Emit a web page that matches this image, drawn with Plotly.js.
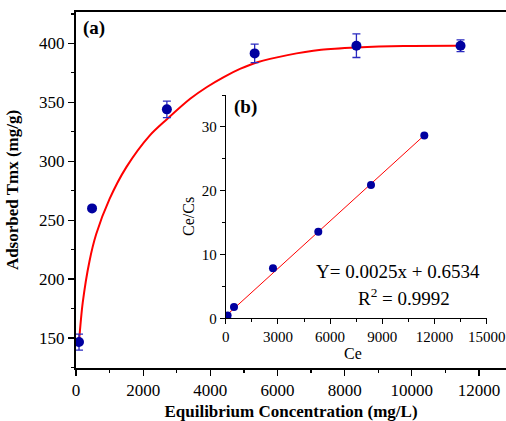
<!DOCTYPE html>
<html>
<head>
<meta charset="utf-8">
<script src="https://cdn.plot.ly/plotly-3.0.1.min.js"></script>
<style>html,body{margin:0;padding:0;background:#fff;}#chart{width:506px;height:421px;}</style>
</head>
<body>
<div id="chart"></div>
<script>
// Main plot (a): adsorption data
const ceMain = [90, 478, 2706, 5320, 8350, 11450];
const qMain = [146.6, 260, 344, 391.5, 398, 398];
const qErr = [6.8, 1.5, 7, 7.8, 10, 5];

// Fitted curve
const ceCurve = [90, 200, 400, 600, 1000, 1500, 2200, 2700, 3400, 3900, 4400, 4900, 5400, 6300, 7300, 8350, 9760, 11450];
const qCurve = [147, 180, 215, 238, 268, 295, 322, 335.5, 353, 363, 371.4, 378.5, 384, 390, 394.5, 396.5, 397.8, 398];

// Inset (b): linearised Langmuir
const ceInset = [110, 477, 2718, 5322, 8350, 11414];
const ratioInset = [0.45, 1.77, 7.85, 13.55, 20.9, 28.67];
const fitX = [100, 11420];
const fitY = [0.6, 28.7];

const mainXTicks = [0, 2000, 4000, 6000, 8000, 10000, 12000];
const mainYTicks = [150, 200, 250, 300, 350, 400];
const insetXTicks = [0, 3000, 6000, 9000, 12000, 15000];
const insetYTicks = [0, 10, 20, 30];

const W = 506, H = 421;
const M = {l: 76, r: 0, t: 12, b: 53};
const PW = W - M.l - M.r, PH = H - M.t - M.b;
const px = x => (x - M.l) / PW;
const py = y => (H - M.b - y) / PH;

const FONT = 'Liberation Serif';
const BLUE = '#0000a0';

const traces = [
  {x: ceCurve, y: qCurve, mode: 'lines', line: {color: '#ff0000', width: 2, shape: 'spline', smoothing: 0.8},
   xaxis: 'x', yaxis: 'y', hoverinfo: 'skip'},
  {x: ceMain, y: qMain, mode: 'markers', marker: {color: BLUE, size: 10},
   error_y: {type: 'data', array: qErr, visible: true, color: '#2a2ac0', thickness: 1.3, width: 4},
   xaxis: 'x', yaxis: 'y'},
  {x: fitX, y: fitY, mode: 'lines', line: {color: '#ff0000', width: 1}, xaxis: 'x2', yaxis: 'y2'},
  {x: ceInset, y: ratioInset, mode: 'markers', marker: {color: BLUE, size: 8}, xaxis: 'x2', yaxis: 'y2'}
];

const layout = {
  width: W, height: H,
  margin: M,
  showlegend: false,
  paper_bgcolor: '#fff', plot_bgcolor: '#fff',
  font: {family: FONT, color: '#000'},
  xaxis: {
    domain: [0, 1], range: [0, 12804], tickvals: mainXTicks, ticktext: mainXTicks.map(String),
    showgrid: false, zeroline: false, showline: true, linecolor: '#000', linewidth: 2, mirror: true,
    ticks: 'outside', ticklen: 6, tickwidth: 1.3, tickcolor: '#000',
    minor: {dtick: 1000, tick0: 0, ticks: 'outside', ticklen: 3, tickcolor: '#000', tickwidth: 1.3},
    tickfont: {size: 17, family: FONT},
    title: {text: '<b>Equilibrium Concentration (mg/L)</b>', font: {size: 17, family: FONT}, standoff: 18}
  },
  yaxis: {
    domain: [0, 1], range: [124.6, 426.6], tickvals: mainYTicks, ticktext: mainYTicks.map(String),
    showgrid: false, zeroline: false, showline: true, linecolor: '#000', linewidth: 2, mirror: false,
    ticks: 'outside', ticklen: 6, tickwidth: 1.3, tickcolor: '#000',
    minor: {dtick: 25, tick0: 0, ticks: 'outside', ticklen: 3, tickcolor: '#000', tickwidth: 1.3},
    tickfont: {size: 17, family: FONT},
    title: {text: '<b>Adsorbed Tmx (mg/g)</b>', font: {size: 17, family: FONT}, standoff: 16}
  },
  xaxis3: {
    overlaying: 'x', matches: 'x', side: 'top', anchor: 'y', showticklabels: false,
    showgrid: false, zeroline: false, showline: false, tickvals: mainXTicks,
    ticks: 'inside', ticklen: 4, tickwidth: 1.2, tickcolor: '#000',
    minor: {dtick: 1000, tick0: 0, ticks: 'inside', ticklen: 2, tickcolor: '#000'}
  },
  xaxis2: {
    domain: [px(225.7), px(486.7)], anchor: 'y2', range: [0, 15000],
    tickvals: insetXTicks, ticktext: insetXTicks.map(String),
    showgrid: false, zeroline: false, showline: true, linecolor: '#000', linewidth: 1,
    ticks: 'outside', ticklen: 5, tickwidth: 1, tickcolor: '#000',
    minor: {dtick: 1500, tick0: 0, ticks: 'outside', ticklen: 3, tickcolor: '#000'},
    tickfont: {size: 15, family: FONT}
  },
  yaxis2: {
    domain: [py(318.3), py(95)], anchor: 'x2', range: [0, 35],
    tickvals: insetYTicks, ticktext: insetYTicks.map(String),
    showgrid: false, zeroline: false, showline: true, linecolor: '#000', linewidth: 1,
    ticks: 'outside', ticklen: 5, tickwidth: 1, tickcolor: '#000',
    minor: {dtick: 5, tick0: 0, ticks: 'outside', ticklen: 3, tickcolor: '#000'},
    tickfont: {size: 15, family: FONT}
  },
  annotations: [
    {xref: 'paper', yref: 'paper', x: px(81), y: py(28), xanchor: 'left', yanchor: 'middle',
     text: '<b>(a)</b>', showarrow: false, font: {size: 19, family: FONT}},
    {xref: 'paper', yref: 'paper', x: px(232), y: py(107), xanchor: 'left', yanchor: 'middle',
     text: '<b>(b)</b>', showarrow: false, font: {size: 19, family: FONT}},
    {xref: 'paper', yref: 'paper', x: px(314), y: py(271.7), xanchor: 'left', yanchor: 'middle',
     text: 'Y= 0.0025x + 0.6534', showarrow: false, font: {size: 19, family: FONT}},
    {xref: 'paper', yref: 'paper', x: px(356), y: py(297), xanchor: 'left', yanchor: 'middle',
     text: 'R<sup>2</sup> = 0.9992', showarrow: false, font: {size: 19, family: FONT}},
    {xref: 'paper', yref: 'paper', x: px(353), y: py(353), xanchor: 'center', yanchor: 'middle',
     text: 'Ce', showarrow: false, font: {size: 16, family: FONT}},
    {xref: 'paper', yref: 'paper', x: px(188), y: py(217), xanchor: 'center', yanchor: 'middle',
     text: 'Ce/Cs', textangle: -90, showarrow: false, font: {size: 16, family: FONT}}
  ]
};

Plotly.newPlot('chart', traces, layout, {displayModeBar: false, staticPlot: true});
</script>
</body>
</html>
